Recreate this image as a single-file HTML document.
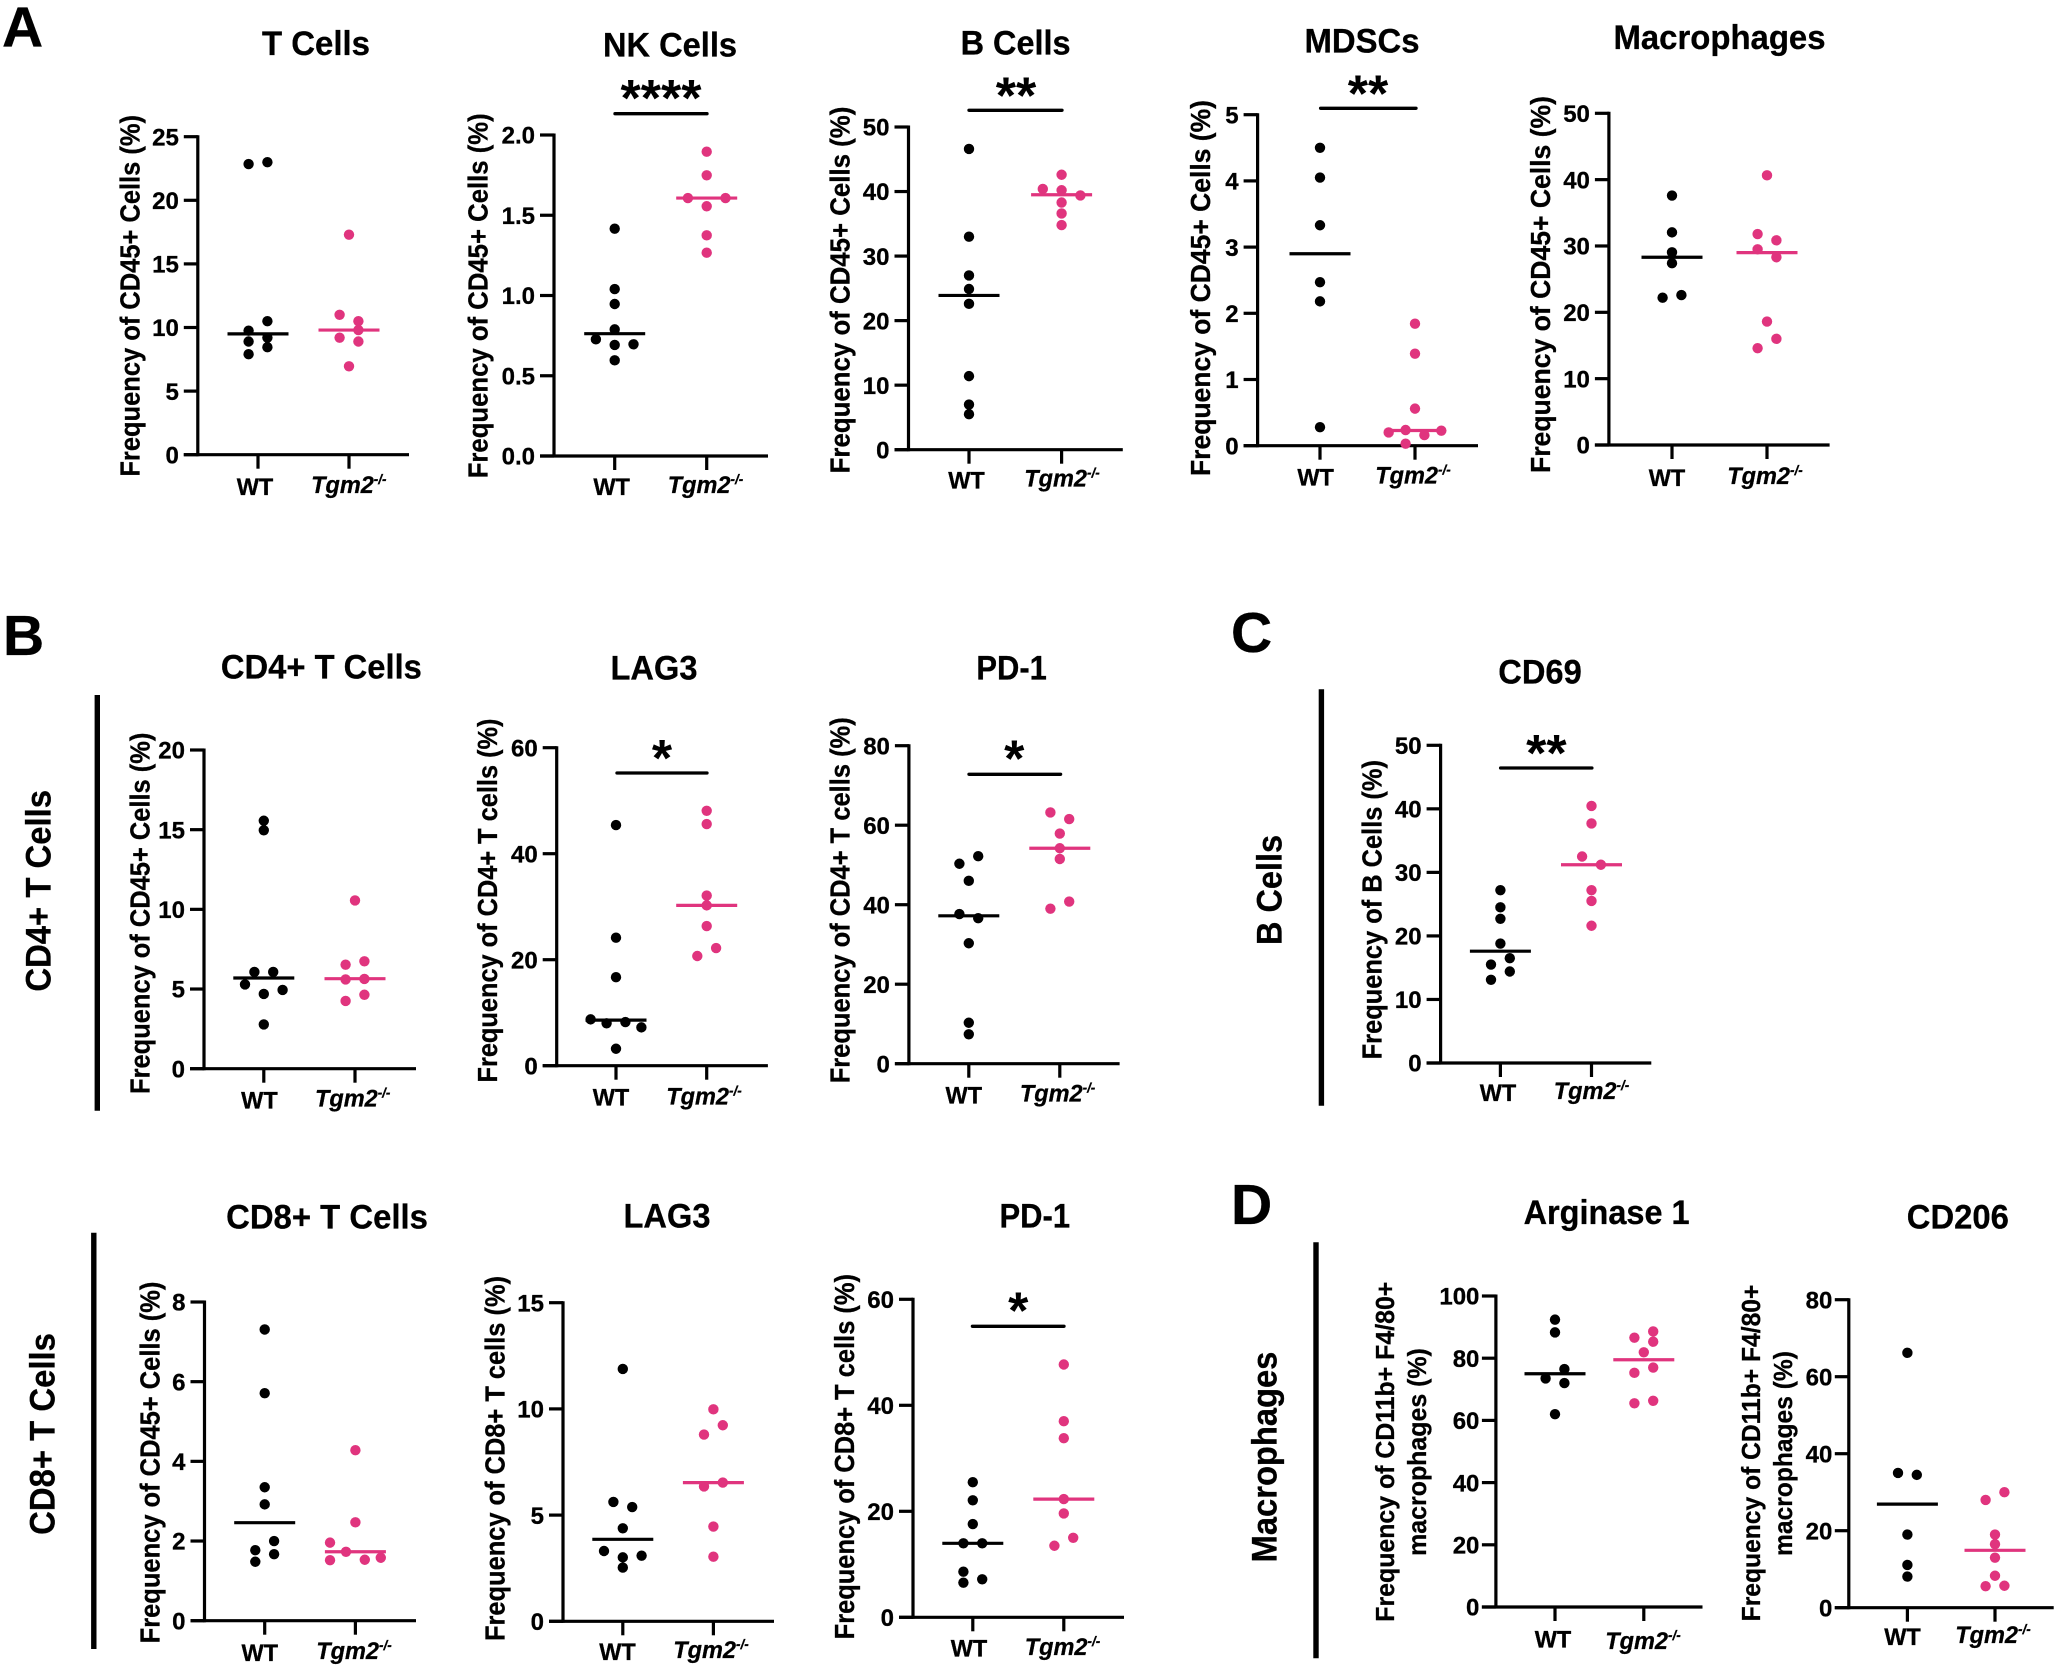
<!DOCTYPE html>
<html lang="en">
<head>
<meta charset="utf-8">
<title>Immune cell frequencies in WT and Tgm2-/- tumours</title>
<style>
html,body{margin:0;padding:0;background:#fff}
svg{display:block}
text{font-family:"Liberation Sans",Arial,sans-serif;font-weight:700;fill:#000;stroke:#000;stroke-width:.3px}
.letter{font-size:57px}
.section{font-size:35px;text-anchor:middle}
.title{font-size:34px;text-anchor:middle}
.ylabel{font-size:28px;text-anchor:middle}
.ylabel2{font-size:26px;text-anchor:middle}
.stars{font-size:52px;text-anchor:middle;stroke-width:0}
.tick-label{font-size:24px;text-anchor:end}
.cat-label{font-size:24.5px;text-anchor:middle}
.sig{stroke:#000;stroke-width:3.3;stroke-linecap:round}
.rule{stroke:#000;stroke-width:5.4}
</style>
</head>
<body>
<svg id="figure" xmlns="http://www.w3.org/2000/svg" width="2059" height="1667" viewBox="0 0 2059 1667">
  <rect width="2059" height="1667" fill="#fff"/>

  <text class="letter" x="2" y="46.7">A</text>
  <text class="letter" x="3" y="655">B</text>
  <text class="letter" x="1231" y="652">C</text>
  <text class="letter" x="1231" y="1224">D</text>

  <line class="rule" x1="97.3" y1="695" x2="97.3" y2="1110.7"/>
  <line class="rule" x1="93.8" y1="1232.7" x2="93.8" y2="1649"/>
  <line class="rule" x1="1321.4" y1="689.3" x2="1321.4" y2="1105.7"/>
  <line class="rule" x1="1316" y1="1242.3" x2="1316" y2="1658.3"/>

  <text class="section" transform="translate(50.4,890.8) rotate(-90)" textLength="201.7" lengthAdjust="spacingAndGlyphs">CD4+ T Cells</text>
  <text class="section" transform="translate(54.5,1434) rotate(-90)" textLength="201.7" lengthAdjust="spacingAndGlyphs">CD8+ T Cells</text>
  <text class="section" transform="translate(1281.7,890) rotate(-90)" textLength="110" lengthAdjust="spacingAndGlyphs">B Cells</text>
  <text class="section" transform="translate(1276.7,1457) rotate(-90)" textLength="210.7" lengthAdjust="spacingAndGlyphs">Macrophages</text>

  <text class="title" x="316" y="55" textLength="108" lengthAdjust="spacingAndGlyphs">T Cells</text>
  <text class="title" x="670" y="56.7" textLength="134" lengthAdjust="spacingAndGlyphs">NK Cells</text>
  <text class="title" x="1015.6" y="54.3" textLength="110" lengthAdjust="spacingAndGlyphs">B Cells</text>
  <text class="title" x="1362" y="52.7" textLength="115" lengthAdjust="spacingAndGlyphs">MDSCs</text>
  <text class="title" x="1719.5" y="49" textLength="212" lengthAdjust="spacingAndGlyphs">Macrophages</text>
  <text class="title" x="321.4" y="678.3" textLength="201" lengthAdjust="spacingAndGlyphs">CD4+ T Cells</text>
  <text class="title" x="654" y="679.3" textLength="87" lengthAdjust="spacingAndGlyphs">LAG3</text>
  <text class="title" x="1011.6" y="679.3" textLength="70.5" lengthAdjust="spacingAndGlyphs">PD-1</text>
  <text class="title" x="1540" y="683.3" textLength="83.5" lengthAdjust="spacingAndGlyphs">CD69</text>
  <text class="title" x="327" y="1228.3" textLength="201.8" lengthAdjust="spacingAndGlyphs">CD8+ T Cells</text>
  <text class="title" x="667" y="1227.3" textLength="87" lengthAdjust="spacingAndGlyphs">LAG3</text>
  <text class="title" x="1034.8" y="1227.3" textLength="70.5" lengthAdjust="spacingAndGlyphs">PD-1</text>
  <text class="title" x="1606.6" y="1224" textLength="166" lengthAdjust="spacingAndGlyphs">Arginase 1</text>
  <text class="title" x="1957.8" y="1228.3" textLength="102" lengthAdjust="spacingAndGlyphs">CD206</text>

  <text class="ylabel" transform="translate(139.3,295.8) rotate(-90)" textLength="361.7" lengthAdjust="spacingAndGlyphs">Frequency of CD45+ Cells (%)</text>
  <text class="ylabel" transform="translate(487.5,295.8) rotate(-90)" textLength="365" lengthAdjust="spacingAndGlyphs">Frequency of CD45+ Cells (%)</text>
  <text class="ylabel" transform="translate(849.6,290) rotate(-90)" textLength="366.7" lengthAdjust="spacingAndGlyphs">Frequency of CD45+ Cells (%)</text>
  <text class="ylabel" transform="translate(1210,288) rotate(-90)" textLength="376" lengthAdjust="spacingAndGlyphs">Frequency of CD45+ Cells (%)</text>
  <text class="ylabel" transform="translate(1550,284.5) rotate(-90)" textLength="377" lengthAdjust="spacingAndGlyphs">Frequency of CD45+ Cells (%)</text>
  <text class="ylabel" transform="translate(149.6,913.3) rotate(-90)" textLength="361.3" lengthAdjust="spacingAndGlyphs">Frequency of CD45+ Cells (%)</text>
  <text class="ylabel" transform="translate(496.9,900.5) rotate(-90)" textLength="364" lengthAdjust="spacingAndGlyphs">Frequency of CD4+ T cells (%)</text>
  <text class="ylabel" transform="translate(849.6,900.3) rotate(-90)" textLength="366" lengthAdjust="spacingAndGlyphs">Frequency of CD4+ T cells (%)</text>
  <text class="ylabel" transform="translate(1381.7,909.7) rotate(-90)" textLength="299.3" lengthAdjust="spacingAndGlyphs">Frequency of B Cells (%)</text>
  <text class="ylabel" transform="translate(159.4,1462.5) rotate(-90)" textLength="361.7" lengthAdjust="spacingAndGlyphs">Frequency of CD45+ Cells (%)</text>
  <text class="ylabel" transform="translate(504.5,1458.5) rotate(-90)" textLength="365" lengthAdjust="spacingAndGlyphs">Frequency of CD8+ T cells (%)</text>
  <text class="ylabel" transform="translate(854,1456.7) rotate(-90)" textLength="365.3" lengthAdjust="spacingAndGlyphs">Frequency of CD8+ T cells (%)</text>
  <text class="ylabel2" transform="translate(1394,1451.7) rotate(-90)" textLength="340" lengthAdjust="spacingAndGlyphs">Frequency of CD11b+ F4/80+</text>
  <text class="ylabel2" transform="translate(1425.8,1452) rotate(-90)" textLength="207.7" lengthAdjust="spacingAndGlyphs">macrophages (%)</text>
  <text class="ylabel2" transform="translate(1760,1453) rotate(-90)" textLength="336.7" lengthAdjust="spacingAndGlyphs">Frequency of CD11b+ F4/80+</text>
  <text class="ylabel2" transform="translate(1791.8,1453.5) rotate(-90)" textLength="205" lengthAdjust="spacingAndGlyphs">macrophages (%)</text>

  <line class="sig" x1="615" y1="113.7" x2="707" y2="113.7"/>
  <text class="stars" x="661" y="116">****</text>
  <line class="sig" x1="969" y1="110.3" x2="1062" y2="110.3"/>
  <text class="stars" x="1016" y="113.3">**</text>
  <line class="sig" x1="1320.6" y1="108.3" x2="1416" y2="108.3"/>
  <text class="stars" x="1368" y="111.6">**</text>
  <line class="sig" x1="617" y1="773" x2="707" y2="773"/>
  <text class="stars" x="662" y="776">*</text>
  <line class="sig" x1="969" y1="774.3" x2="1060.6" y2="774.3"/>
  <text class="stars" x="1014.3" y="776.7">*</text>
  <line class="sig" x1="1500.6" y1="768" x2="1591.9" y2="768"/>
  <text class="stars" x="1546.4" y="771">**</text>
  <line class="sig" x1="972.4" y1="1326.3" x2="1064" y2="1326.3"/>
  <text class="stars" x="1018.3" y="1328.3">*</text>

  <g id="charts"></g>
</svg>

<script>
const categories = ['WT', 'Tgm2'];
const knockoutSuffix = '-/-';

const tCellsTicks = ['0', '5', '10', '15', '20', '25'];
const tCellsWt = [23.0, 22.85, 10.5, 9.75, 9.2, 8.9, 8.45, 7.9];
const tCellsWtCols = [1, -1, 1, -1, 1, -1, 1, -1];
const tCellsKo = [17.3, 11.0, 10.5, 9.8, 9.2, 8.9, 6.95];
const tCellsKoCols = [0, -1, 1, 1, -1, 1, 0];
const tCellsMedians = [9.5, 9.8];

const nkTicks = ['0.0', '0.5', '1.0', '1.5', '2.0'];
const nkWt = [1.416, 1.04, 0.947, 0.789, 0.727, 0.692, 0.696, 0.596];
const nkWtCols = [0, 0, 0, 0, -2, 0, 2, 0];
const nkKo = [1.896, 1.749, 1.607, 1.607, 1.556, 1.375, 1.267];
const nkKoCols = [0, 0, -2, 2, 0, 0, 0];
const nkMedians = [0.762, 1.607];

const bCellsTicks = ['0', '10', '20', '30', '40', '50'];
const bCellsWt = [46.6, 33.0, 27.0, 24.9, 22.6, 11.4, 7.0, 5.5];
const bCellsWtCols = [0, 0, 0, 0, 0, 0, 0, 0];
const bCellsKo = [42.6, 40.4, 40.2, 39.4, 38.3, 36.6, 34.8];
const bCellsKoCols = [0, -2, 0, 2, 0, 0, 0];
const bCellsMedians = [23.9, 39.5];

const mdscTicks = ['0', '1', '2', '3', '4', '5'];
const mdscWt = [4.5, 4.05, 3.33, 2.47, 2.18, 0.28];
const mdscWtCols = [0, 0, 0, 0, 0, 0];
const mdscKo = [1.843, 1.39, 0.56, 0.237, 0.227, 0.2, 0.16, 0.03];
const mdscKoCols = [0, 0, 0, -1, 2.8, -2.8, 1, -1];
const mdscMedians = [2.9, 0.23];

const macrophageTicks = ['0', '10', '20', '30', '40', '50'];
const macrophageWt = [37.6, 32.05, 29.05, 27.4, 22.6, 22.2];
const macrophageWtCols = [0, 0, 0, 0, 1, -1];
const macrophageKo = [40.65, 31.8, 30.85, 29.5, 28.3, 18.6, 16.0, 14.6];
const macrophageKoCols = [0, -1, 1, -1, 1, 0, 1, -1];
const macrophageMedians = [28.3, 29.0];

const cd4Ticks = ['0', '5', '10', '15', '20'];
const cd4Wt = [15.56, 14.96, 6.07, 6.07, 5.29, 4.94, 4.69, 2.78];
const cd4WtCols = [0, 0, -1, 1, -2, 2, 0, 0];
const cd4Ko = [10.56, 6.74, 6.53, 5.63, 5.6, 4.64, 4.25];
const cd4KoCols = [0, 1, -1, 1, -1, 1, -1];
const cd4Medians = [5.69, 5.65];

const cd4LagTicks = ['0', '20', '40', '60'];
const cd4LagWt = [45.4, 24.15, 16.7, 8.74, 8.24, 8.0, 7.23, 3.2];
const cd4LagWtCols = [0, 0, 0, -2.7, 1, -1, 2.7, 0];
const cd4LagKo = [48.1, 45.6, 32.1, 30.25, 26.35, 22.2, 20.7];
const cd4LagKoCols = [0, 0, 0, 0, 0, 1, -1];
const cd4LagMedians = [8.6, 30.25];

const cd4PdTicks = ['0', '20', '40', '60', '80'];
const cd4PdWt = [52.2, 50.3, 46.0, 37.65, 36.6, 30.3, 10.3, 7.4];
const cd4PdWtCols = [1, -1, 0, -1, 1, 0, 0, 0];
const cd4PdKo = [63.2, 61.55, 57.9, 54.2, 51.5, 40.8, 39.0];
const cd4PdKoCols = [-1, 1, 0, 0, 0, 1, -1];
const cd4PdMedians = [37.2, 54.2];

const cd69Ticks = ['0', '10', '20', '30', '40', '50'];
const cd69Wt = [27.2, 24.5, 22.7, 18.8, 16.5, 15.5, 14.4, 13.1];
const cd69WtCols = [0, 0, 0, 0, 1, -1, 1, -1];
const cd69Ko = [40.45, 37.7, 32.5, 31.2, 27.2, 25.5, 21.6];
const cd69KoCols = [0, 0, -1, 1, 0, 0, 0];
const cd69Medians = [17.6, 31.2];

const cd8Ticks = ['0', '2', '4', '6', '8'];
const cd8Wt = [7.31, 5.71, 3.35, 2.92, 2.0, 1.77, 1.67, 1.48];
const cd8WtCols = [0, 0, 0, 0, 1, -1, 1, -1];
const cd8Ko = [4.28, 2.47, 1.96, 1.73, 1.58, 1.53, 1.52];
const cd8KoCols = [0, 0, -2.7, -1, 2.7, 1, -2.7];
const cd8Medians = [2.46, 1.73];

const cd8LagTicks = ['0', '5', '10', '15'];
const cd8LagWt = [11.88, 5.62, 5.38, 4.38, 3.31, 3.09, 3.01, 2.53];
const cd8LagWtCols = [0, -1, 1, 0, -2, 2, 0, 0];
const cd8LagKo = [9.98, 9.23, 8.79, 6.53, 6.35, 4.46, 3.04];
const cd8LagKoCols = [0, 1, -1, 1, -1, 0, 0];
const cd8LagMedians = [3.86, 6.53];

const cd8PdTicks = ['0', '20', '40', '60'];
const cd8PdWt = [25.5, 22.08, 17.6, 13.96, 13.96, 8.6, 7.17, 6.54];
const cd8PdWtCols = [0, 0, 0, -1, 1, -1, 1, -1];
const cd8PdKo = [47.7, 37.0, 33.8, 22.3, 19.6, 15.0, 13.5];
const cd8PdKoCols = [0, 0, 0, 0, 0, 1, -1];
const cd8PdMedians = [13.96, 22.3];

const arginaseTicks = ['0', '20', '40', '60', '80', '100'];
const arginaseWt = [92.4, 88.3, 76.5, 73.5, 72.0, 62.0];
const arginaseWtCols = [0, 0, 1, -1, 1, 0];
const arginaseKo = [88.6, 86.6, 85.3, 81.9, 77.0, 75.3, 66.3, 65.5];
const arginaseKoCols = [1, -1, 1, 0, 1, -1, 1, -1];
const arginaseMedians = [75.0, 79.5];

const cd206Ticks = ['0', '20', '40', '60', '80'];
const cd206Wt = [66.2, 35.0, 34.5, 19.0, 11.1, 8.1];
const cd206WtCols = [0, -1, 1, 0, 0, 0];
const cd206Ko = [30.0, 28.0, 19.0, 16.5, 13.0, 8.3, 5.7, 5.6];
const cd206KoCols = [1, -1, 0, 0, 0, 0, 1, -1];
const cd206Medians = [26.9, 14.9];

/* Axis frames (layout only); mark positions all come from the axis functions below. */
const panels = [
  {id:'t-cells', ax:197.8, y0:454.7, yTop:136.7, xEnd:409, wtX:258, koX:349, wtLab:[255,495], koLab:[348.8,493], ticks:tCellsTicks, wt:tCellsWt, wtCols:tCellsWtCols, ko:tCellsKo, koCols:tCellsKoCols, med:tCellsMedians},
  {id:'nk-cells', ax:554, y0:456, yTop:135, xEnd:768, wtX:614.7, koX:706.7, wtLab:[611.6,495], koLab:[705.5,493], ticks:nkTicks, wt:nkWt, wtCols:nkWtCols, ko:nkKo, koCols:nkKoCols, med:nkMedians},
  {id:'b-cells', ax:908.5, y0:449.7, yTop:127, xEnd:1122.8, wtX:969, koX:1061.6, wtLab:[966.5,488.3], koLab:[1062,486.7], ticks:bCellsTicks, wt:bCellsWt, wtCols:bCellsWtCols, ko:bCellsKo, koCols:bCellsKoCols, med:bCellsMedians},
  {id:'mdscs', ax:1257.6, y0:445.7, yTop:114.7, xEnd:1478, wtX:1320, koX:1415, wtLab:[1315.6,485.7], koLab:[1413,483.3], ticks:mdscTicks, wt:mdscWt, wtCols:mdscWtCols, ko:mdscKo, koCols:mdscKoCols, med:mdscMedians},
  {id:'macrophages', ax:1608.9, y0:445, yTop:113.3, xEnd:1829.6, wtX:1672, koX:1767, wtLab:[1667,486], koLab:[1765,484], ticks:macrophageTicks, wt:macrophageWt, wtCols:macrophageWtCols, ko:macrophageKo, koCols:macrophageKoCols, med:macrophageMedians},
  {id:'cd4-t-cells', ax:204, y0:1068.7, yTop:750, xEnd:416, wtX:263.8, koX:355, wtLab:[259.4,1108.3], koLab:[352.7,1106.7], ticks:cd4Ticks, wt:cd4Wt, wtCols:cd4WtCols, ko:cd4Ko, koCols:cd4KoCols, med:cd4Medians},
  {id:'cd4-lag3', ax:556.7, y0:1065.7, yTop:747.7, xEnd:767.9, wtX:616, koX:706.7, wtLab:[611,1105.7], koLab:[704,1104.3], ticks:cd4LagTicks, wt:cd4LagWt, wtCols:cd4LagWtCols, ko:cd4LagKo, koCols:cd4LagKoCols, med:cd4LagMedians},
  {id:'cd4-pd1', ax:908.9, y0:1063.7, yTop:745.7, xEnd:1119.6, wtX:968.8, koX:1059.8, wtLab:[963.8,1103.3], koLab:[1057.6,1101.7], ticks:cd4PdTicks, wt:cd4PdWt, wtCols:cd4PdWtCols, ko:cd4PdKo, koCols:cd4PdKoCols, med:cd4PdMedians},
  {id:'cd69', ax:1440.6, y0:1063, yTop:745.3, xEnd:1651.3, wtX:1500.4, koX:1591.5, wtLab:[1498,1101], koLab:[1591.5,1099], ticks:cd69Ticks, wt:cd69Wt, wtCols:cd69WtCols, ko:cd69Ko, koCols:cd69KoCols, med:cd69Medians},
  {id:'cd8-t-cells', ax:204.5, y0:1620.7, yTop:1302, xEnd:416, wtX:264.7, koX:355.4, wtLab:[259.8,1661], koLab:[354,1659], ticks:cd8Ticks, wt:cd8Wt, wtCols:cd8WtCols, ko:cd8Ko, koCols:cd8KoCols, med:cd8Medians},
  {id:'cd8-lag3', ax:563, y0:1621.3, yTop:1302.7, xEnd:774, wtX:622.8, koX:713.4, wtLab:[617.5,1660], koLab:[711,1658], ticks:cd8LagTicks, wt:cd8LagWt, wtCols:cd8LagWtCols, ko:cd8LagKo, koCols:cd8LagKoCols, med:cd8LagMedians},
  {id:'cd8-pd1', ax:913, y0:1617.3, yTop:1299.3, xEnd:1124, wtX:972.8, koX:1063.8, wtLab:[969,1656.7], koLab:[1062.5,1655], ticks:cd8PdTicks, wt:cd8PdWt, wtCols:cd8PdWtCols, ko:cd8PdKo, koCols:cd8PdKoCols, med:cd8PdMedians},
  {id:'arginase', ax:1495.9, y0:1607, yTop:1296, xEnd:1702.5, wtX:1555, koX:1643.8, wtLab:[1553,1647.3], koLab:[1643,1649], ticks:arginaseTicks, wt:arginaseWt, wtCols:arginaseWtCols, ko:arginaseKo, koCols:arginaseKoCols, med:arginaseMedians, gap:16.5},
  {id:'cd206', ax:1848.8, y0:1607.7, yTop:1299.7, xEnd:2053.7, wtX:1907.4, koX:1995, wtLab:[1902.5,1645], koLab:[1993,1643], ticks:cd206Ticks, wt:cd206Wt, wtCols:cd206WtCols, ko:cd206Ko, koCols:cd206KoCols, med:cd206Medians, gap:16.5}
];

const SVG_NS = 'http://www.w3.org/2000/svg';
const BLACK = '#000000';
const PINK = '#e0347e';
const COLUMN_STEP = 9.4;
const DOT_RADIUS = 5.2;
const MEDIAN_HALF = 30.5;
const AXIS_WIDTH = 3.2;
const layer = document.getElementById('charts');

function make(tag, parent) {
  const node = document.createElementNS(SVG_NS, tag);
  parent.appendChild(node);
  return node;
}
function setLine(node, x1, y1, x2, y2, color, width) {
  node.setAttribute('x1', x1);
  node.setAttribute('y1', y1);
  node.setAttribute('x2', x2);
  node.setAttribute('y2', y2);
  node.setAttribute('stroke', color);
  node.setAttribute('stroke-width', width);
}

panels.forEach(function (p) {
  const yMax = parseFloat(p.ticks[p.ticks.length - 1]);
  const yScale = function (v) { return p.y0 - (v / yMax) * (p.y0 - p.yTop); };
  const xScale = function (groupX, col) { return groupX + col * COLUMN_STEP; };
  const gap = p.gap || 19;

  const group = make('g', layer);
  
  

  const yAxis = make('line', group);
  setLine(yAxis, p.ax, p.yTop - 1.5, p.ax, p.y0 + 1.5, BLACK, AXIS_WIDTH);
  
  

  const xAxis = make('line', group);
  setLine(xAxis, p.ax - 14, p.y0, p.xEnd, p.y0, BLACK, AXIS_WIDTH);
  
  

  p.ticks.forEach(function (label) {
    const y = yScale(parseFloat(label));
    const tick = make('line', group);
    setLine(tick, p.ax - 14, y, p.ax, y, BLACK, AXIS_WIDTH);
    
    

    const text = make('text', group);
    text.setAttribute('class', 'tick-label');
    text.setAttribute('x', p.ax - gap);
    text.setAttribute('y', y + 8.7);
    text.textContent = label;
    
    
  });

  [p.wtX, p.koX].forEach(function (x, i) {
    const tick = make('line', group);
    setLine(tick, x, p.y0, x, p.y0 + 14, BLACK, AXIS_WIDTH);
    
    
  });

  const wtLabel = make('text', group);
  wtLabel.setAttribute('class', 'cat-label');
  wtLabel.setAttribute('transform', 'translate(' + p.wtLab[0] + ',' + p.wtLab[1] + ') scale(0.96,1)');
  wtLabel.textContent = categories[0];
  
  

  const koLabel = make('text', group);
  koLabel.setAttribute('class', 'cat-label');
  koLabel.setAttribute('font-style', 'italic');
  koLabel.setAttribute('transform', 'translate(' + p.koLab[0] + ',' + p.koLab[1] + ') scale(0.96,1)');
  koLabel.textContent = categories[1];
  
  
  const sup = make('tspan', koLabel);
  sup.setAttribute('font-size', '14');
  sup.setAttribute('dy', '-9');
  sup.textContent = knockoutSuffix;

  function drawGroup(values, cols, groupX, color, median, key) {
    values.forEach(function (v, i) {
      const dot = make('circle', group);
      dot.setAttribute('cx', xScale(groupX, cols[i]));
      dot.setAttribute('cy', yScale(v));
      dot.setAttribute('r', DOT_RADIUS);
      dot.setAttribute('fill', color);
      
      
    });
    const line = make('line', group);
    setLine(line, groupX - MEDIAN_HALF, yScale(median), groupX + MEDIAN_HALF, yScale(median), color, 3.2);
    
    
  }
  drawGroup(p.wt, p.wtCols, p.wtX, BLACK, p.med[0], 'wt');
  drawGroup(p.ko, p.koCols, p.koX, PINK, p.med[1], 'tgm2');
});
</script>
</body>
</html>
